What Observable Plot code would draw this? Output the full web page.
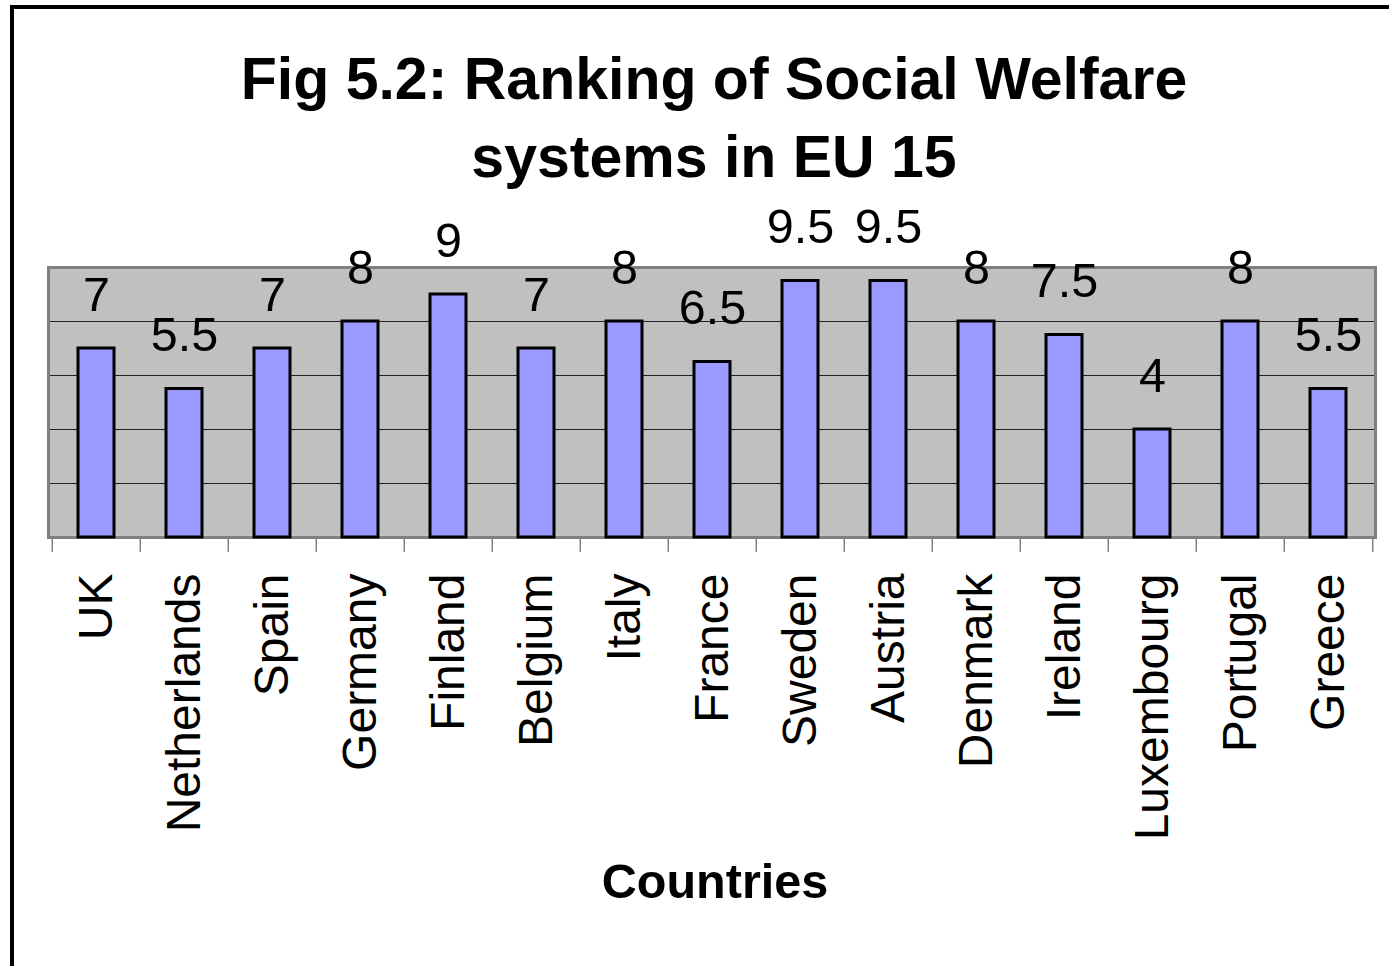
<!DOCTYPE html>
<html>
<head>
<meta charset="utf-8">
<script src="https://cdn.jsdelivr.net/npm/d3@7"></script>
<script src="https://cdn.jsdelivr.net/npm/@observablehq/plot@0.6"></script>
<style>
html, body { margin:0; padding:0; width:1389px; height:966px; overflow:hidden; background:#fff; font-family: "Liberation Sans", Arial, sans-serif; }
#frame { position:absolute; left:10px; top:5px; width:1500px; height:1100px; border-left:4px solid #000; border-top:4px solid #000; box-sizing:border-box; pointer-events:none; }
#title { position:absolute; left:204px; width:1020px; top:40px; text-align:center; font-weight:bold; font-size:59px; line-height:78px; color:#000; }
#chart { position:absolute; left:0; top:190px; }
</style>
</head>
<body>
<div id="title"></div>
<div id="chart"></div>
<div id="frame"></div>
<script>
const countries = ["UK", "Netherlands", "Spain", "Germany", "Finland", "Belgium", "Italy", "France", "Sweden", "Austria", "Denmark", "Ireland", "Luxembourg", "Portugal", "Greece"];
const scores = [7, 5.5, 7, 8, 9, 7, 8, 6.5, 9.5, 9.5, 8, 7.5, 4, 8, 5.5];
const titleText = "Fig 5.2: Ranking of Social Welfare systems in EU 15";
const xAxisLabel = "Countries";
const gridTicks = [2, 4, 6, 8];
const yDomain = [0, 10];

document.getElementById("title").textContent = titleText;

const W = 1389, H = 776, mL = 48, mR = 14, mT = 77, mB = 429;
const step = (W - mL - mR) / countries.length;
const tickDown = -15 / ((H - mT - mB) / (yDomain[1] - yDomain[0]));
const data = countries.map((c, i) => ({country: c, score: scores[i]}));
const font = "'Liberation Sans', Arial, sans-serif";

const chart = Plot.plot({
  width: W, height: H,
  marginLeft: mL, marginRight: mR, marginTop: mT, marginBottom: mB,
  style: {background: "transparent", fontFamily: font, color: "#000", overflow: "visible"},
  x: {type: "band", domain: countries, padding: 0},
  y: {domain: yDomain, axis: null},
  marks: [
    Plot.frame({fill: "#c0c0c0", stroke: "none"}),
    Plot.ruleY(gridTicks, {stroke: "#222", strokeWidth: 1}),
    Plot.frame({stroke: "#808080", strokeWidth: 3}),
    Plot.ruleX(countries, {x: d => d, y1: 0, y2: tickDown, dx: -step / 2, stroke: "#808080", strokeWidth: 1.5}),
    Plot.ruleX(countries.slice(-1), {x: d => d, y1: 0, y2: tickDown, dx: step / 2, stroke: "#808080", strokeWidth: 1.5}),
    Plot.barY(data, {x: "country", y: "score", fill: "#9999ff", stroke: "#000", strokeWidth: 3, insetLeft: 26, insetRight: 26}),
    Plot.text(data, {x: "country", y: "score", text: d => String(d.score), dy: -38, lineAnchor: "bottom", fontSize: 48.5, fill: "#000", fontFamily: font}),
    Plot.axisX({tickSize: 0, tickPadding: 36, tickRotate: -90, fontSize: 48, label: null, fill: "#000", fontFamily: font}),
    Plot.text([xAxisLabel], {text: d => d, frameAnchor: "bottom", dy: 360, dx: 3, lineAnchor: "bottom", fontSize: 48.5, fontWeight: "bold", fill: "#000", fontFamily: font})
  ]
});
document.getElementById("chart").appendChild(chart);
</script>
</body>
</html>
